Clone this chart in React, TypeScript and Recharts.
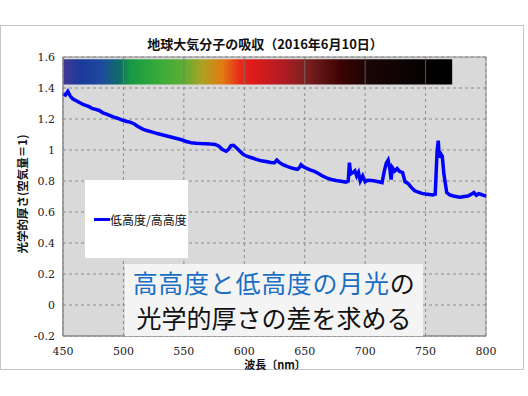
import React from "react";
import {
  LineChart,
  Line,
  XAxis,
  YAxis,
  CartesianGrid,
  ReferenceArea,
  ReferenceLine,
} from "recharts";

// wavelength (nm) and optical depth ratio
const wavelength = [
  450, 452, 454, 456, 458, 461, 464, 467, 470, 472, 474, 477, 480, 483, 486, 489, 492, 495, 498, 500,
  503, 506, 509, 512, 516, 520, 524, 528, 532, 536, 540, 544, 548, 552, 556, 560, 564, 568, 572, 576,
  579, 582, 585, 587, 589, 591, 593, 596, 599, 602, 606, 610, 614, 618, 622, 625, 627, 629, 632, 636,
  640, 644, 646, 647, 649, 652, 655, 658, 661, 664, 668, 672, 676, 680, 684, 686, 687, 688, 690, 691.5,
  693, 694.5, 696, 698, 700, 702, 705, 708, 711, 714, 716, 717.5, 719, 720.5, 721.5, 722.5, 724.5, 726.5,
  728.5, 731, 733, 735.5, 738, 741, 744, 747, 750, 753, 756, 758, 759.5, 760.5, 761.3, 762.5, 763.8,
  765.2, 767.5, 770, 773, 776, 779, 782, 785, 788, 790, 792, 794, 796, 798, 800,
];
const ratio = [
  1.362, 1.355, 1.378, 1.348, 1.33, 1.318, 1.305, 1.292, 1.285, 1.278, 1.268, 1.262, 1.255, 1.24, 1.232,
  1.222, 1.212, 1.205, 1.196, 1.19, 1.184, 1.178, 1.168, 1.152, 1.135, 1.124, 1.115, 1.106, 1.098, 1.09,
  1.082, 1.074, 1.066, 1.055, 1.047, 1.044, 1.042, 1.041, 1.038, 1.036, 1.025, 1.003, 0.992, 1.005, 1.028,
  1.03, 1.018, 0.995, 0.972, 0.96, 0.95, 0.94, 0.93, 0.926, 0.92, 0.918, 0.935, 0.92, 0.905, 0.893, 0.882,
  0.875, 0.89, 0.905, 0.892, 0.88, 0.87, 0.862, 0.85, 0.835, 0.82, 0.81, 0.803, 0.798, 0.793, 0.8, 0.918,
  0.845, 0.855, 0.866, 0.832, 0.855, 0.8, 0.832, 0.795, 0.805, 0.804, 0.8, 0.795, 0.79, 0.87, 0.915, 0.935,
  0.875, 0.81, 0.886, 0.864, 0.88, 0.862, 0.855, 0.795, 0.785, 0.76, 0.737, 0.728, 0.72, 0.716, 0.713,
  0.71, 0.715, 0.99, 1.06, 0.95, 0.976, 0.96, 0.843, 0.725, 0.71, 0.703, 0.698, 0.696, 0.7, 0.703, 0.715,
  0.725, 0.708, 0.718, 0.713, 0.707, 0.703,
];

const xTicks = [450, 500, 550, 600, 650, 700, 750, 800];
const yTicks = [-0.2, 0, 0.2, 0.4, 0.6, 0.8, 1, 1.2, 1.4, 1.6];

// visible spectrum strip across the top
const spectrumStart = 450;
const spectrumEnd = 772;
const spectrumStops = [
  { nm: 450, color: "#433a94" },
  { nm: 465, color: "#1a3a9c" },
  { nm: 482, color: "#1f4a9e" },
  { nm: 496, color: "#0f6a6a" },
  { nm: 506, color: "#169a42" },
  { nm: 530, color: "#3aab3a" },
  { nm: 550, color: "#5eae32" },
  { nm: 566, color: "#b0a022" },
  { nm: 582, color: "#e27a12" },
  { nm: 596, color: "#e82c18" },
  { nm: 606, color: "#e01a1a" },
  { nm: 630, color: "#b41c22" },
  { nm: 652, color: "#7a2020" },
  { nm: 680, color: "#3c0202" },
  { nm: 702, color: "#1c0606" },
  { nm: 740, color: "#080202" },
  { nm: 772, color: "#000000" },
];

const data = wavelength.map((w, i) => ({ nm: w, value: ratio[i] }));

const serif = "'DejaVu Serif', 'Liberation Serif', serif";
const gothic = "'Noto Sans CJK JP', 'Noto Sans', sans-serif";

const renderXTick = (props: any) => (
  <text
    key={props.index}
    x={props.x}
    y={props.y + 11}
    textAnchor="middle"
    fontSize={11}
    fill="#222"
    style={{ fontFamily: serif }}
  >
    {props.payload.value}
  </text>
);

const renderYTick = (props: any) => (
  <text
    key={props.index}
    x={props.x}
    y={props.y + 4}
    textAnchor="end"
    fontSize={11}
    fill="#222"
    style={{ fontFamily: serif }}
  >
    {String(Number(Number(props.payload.value).toFixed(1)))}
  </text>
);

export default function App() {
  return (
    <div style={{ position: "absolute", left: 0, top: 0, width: 528, height: 396, background: "#fff" }}>
      <div
        style={{
          position: "absolute",
          left: 0,
          top: 25,
          width: 522,
          height: 343,
          border: "1.5px solid #c4c4c4",
        }}
      />
      <div style={{ position: "absolute", left: 0, top: 0, fontFamily: serif }}>
        <LineChart
          width={528}
          height={396}
          data={data}
          margin={{ top: 57, right: 42, bottom: 40, left: 13 }}
        >
          <defs>
            <linearGradient id="spectrum" x1="0" y1="0" x2="1" y2="0">
              {spectrumStops.map((s) => (
                <stop
                  key={s.nm}
                  offset={(s.nm - spectrumStart) / (spectrumEnd - spectrumStart)}
                  stopColor={s.color}
                />
              ))}
            </linearGradient>
          </defs>
          <CartesianGrid stroke="#8c8c8c" strokeDasharray="3 3" fill="#d9d9d9" />
          <XAxis
            dataKey="nm"
            type="number"
            domain={[450, 800]}
            ticks={xTicks}
            tickLine={false}
            axisLine={{ stroke: "#8a8a8a" }}
            tickMargin={2}
            height={20}
            tick={renderXTick}
          />
          <YAxis
            type="number"
            domain={[-0.2, 1.6]}
            ticks={yTicks}
            tickLine={false}
            axisLine={{ stroke: "#8a8a8a" }}
            tickMargin={2}
            width={50}
            tick={renderYTick}
          />
          <ReferenceArea
            x1={spectrumStart}
            x2={spectrumEnd}
            y1={1.423}
            y2={1.586}
            fill="url(#spectrum)"
            fillOpacity={1}
            stroke="none"
          />
          {xTicks.slice(1, 7).map((t) => (
            <ReferenceLine
              key={t}
              segment={[
                { x: t, y: 1.423 },
                { x: t, y: 1.586 },
              ]}
              stroke="#7a7a7a"
              strokeOpacity={0.7}
            />
          ))}
          <ReferenceArea x1={450} x2={800} y1={-0.2} y2={1.6} fill="none" stroke="#8a8a8a" />
          <Line
            type="linear"
            dataKey="value"
            stroke="#0000ff"
            strokeWidth={3.5}
            dot={false}
            isAnimationActive={false}
          />
        </LineChart>
      </div>

      <div
        style={{
          position: "absolute",
          left: 0,
          width: 528,
          top: 34,
          textAlign: "center",
          fontFamily: gothic,
          fontWeight: 700,
          fontSize: 13,
          color: "#111",
          transform: "translateX(1px)",
        }}
      >
        地球大気分子の吸収（2016年6月10日）
      </div>

      <div
        style={{
          position: "absolute",
          left: 22,
          top: 194,
          transform: "translate(-50%, -50%) rotate(-90deg)",
          whiteSpace: "nowrap",
          fontFamily: gothic,
          fontWeight: 700,
          fontSize: 11.5,
          color: "#111",
        }}
      >
        光学的厚さ(空気量＝1)
      </div>

      <div
        style={{
          position: "absolute",
          left: 275,
          top: 364,
          transform: "translate(-50%, -50%)",
          whiteSpace: "nowrap",
          fontFamily: gothic,
          fontWeight: 700,
          fontSize: 11,
          lineHeight: "12px",
          color: "#111",
        }}
      >
        波長〔nm〕
      </div>

      <div
        style={{
          position: "absolute",
          left: 85,
          top: 180,
          width: 103,
          height: 78,
          background: "#fff",
          display: "flex",
          alignItems: "center",
          paddingLeft: 9,
          boxSizing: "border-box",
          fontFamily: gothic,
          fontSize: 12,
          color: "#111",
        }}
      >
        <span style={{ display: "inline-block", width: 16, height: 3, background: "#0000ff" }} />
        <span>低高度/高高度</span>
      </div>

      <div
        style={{
          position: "absolute",
          left: 125,
          top: 264,
          width: 298,
          height: 72,
          background: "#f4f4f4",
          boxSizing: "border-box",
          paddingTop: 1,
          textAlign: "center",
          fontFamily: gothic,
          fontSize: 25,
          lineHeight: "35px",
          color: "#111",
        }}
      >
        <div style={{ letterSpacing: 0.7 }}>
          <span style={{ color: "#1a6fc4" }}>高高度と低高度の月光</span>の
        </div>
        <div>光学的厚さの差を求める</div>
      </div>
    </div>
  );
}
